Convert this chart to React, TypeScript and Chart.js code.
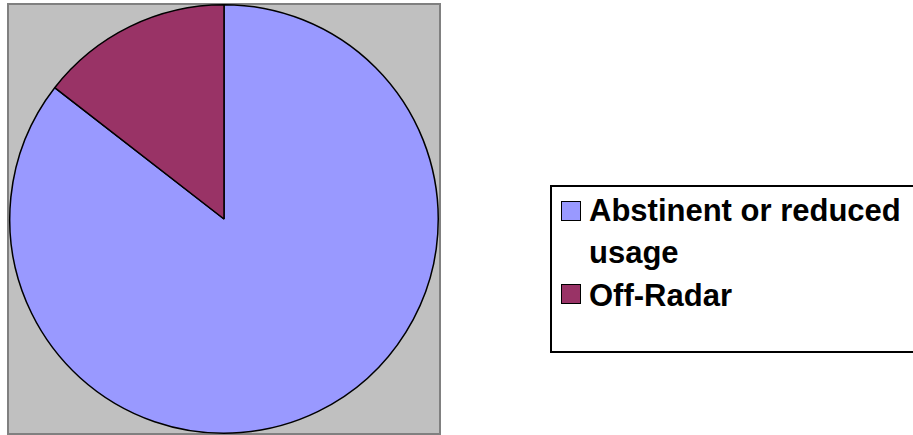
import React, { useEffect, useRef } from "react";
import { Chart, registerables } from "chart.js";

Chart.register(...registerables);

const labels: string[] = ["Abstinent or reduced usage", "Off-Radar"];
const values: number[] = [85.5, 14.5];
const colors: string[] = ["#9999FF", "#993366"];

const plotBackground = {
  id: "plotBackground",
  beforeDraw(chart: any) {
    const { ctx, chartArea: a } = chart;
    ctx.save();
    ctx.fillStyle = "#C0C0C0";
    ctx.fillRect(a.left, a.top, a.width, a.height);
    ctx.strokeStyle = "#808080";
    ctx.lineWidth = 2;
    ctx.strokeRect(a.left, a.top, a.width, a.height);
    ctx.restore();
  },
};

export default function App() {
  const ref = useRef<HTMLCanvasElement>(null);

  useEffect(() => {
    if (!ref.current) return;
    const chart = new Chart(ref.current, {
      type: "pie",
      data: {
        labels,
        datasets: [
          {
            data: values,
            backgroundColor: colors,
            borderColor: "#000000",
            borderWidth: 1.5,
          },
        ],
      },
      options: {
        responsive: false,
        animation: false,
        layout: { padding: { left: 8, top: 4, right: 473, bottom: 1 } },
        plugins: {
          legend: { display: false },
          tooltip: { enabled: false },
        },
      },
      plugins: [plotBackground],
    });
    return () => chart.destroy();
  }, []);

  const font = 'Arial, "Liberation Sans", sans-serif';
  const lineTops = [189.5, 274.5];
  const markerTops = [201, 283.5];

  return (
    <div
      style={{
        position: "fixed",
        left: 0,
        top: 0,
        width: 913,
        height: 435,
        overflow: "hidden",
        background: "#FFFFFF",
      }}
    >
      <canvas ref={ref} width={913} height={435} style={{ position: "absolute", left: 0, top: 0 }} />
      <div
        style={{
          position: "absolute",
          left: 550,
          top: 185,
          width: 420,
          height: 164,
          border: "2px solid #000000",
          background: "#FFFFFF",
        }}
      />
      {labels.map((lab, i) => (
        <React.Fragment key={lab}>
          <div
            style={{
              position: "absolute",
              left: 561,
              top: markerTops[i],
              width: 18,
              height: 18,
              background: colors[i],
              border: "1.5px solid #000000",
            }}
          />
          <div
            style={{
              position: "absolute",
              left: 589,
              top: lineTops[i],
              width: 330,
              fontFamily: font,
              fontWeight: "bold",
              fontSize: 31,
              lineHeight: "42.5px",
              color: "#000000",
              whiteSpace: "normal",
            }}
          >
            {lab}
          </div>
        </React.Fragment>
      ))}
    </div>
  );
}
